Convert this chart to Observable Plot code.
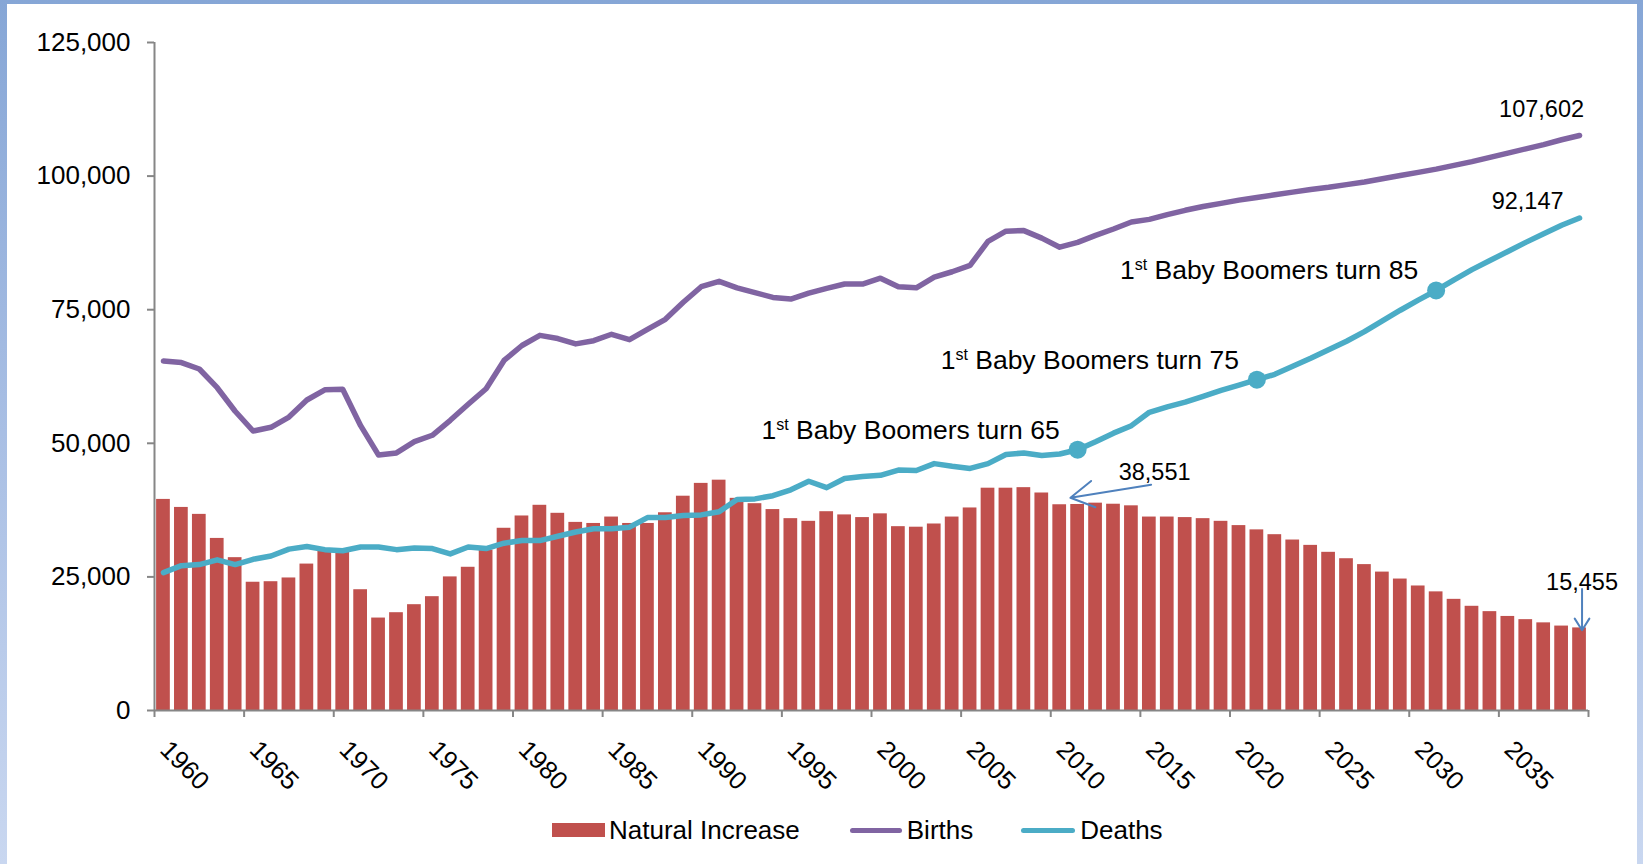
<!DOCTYPE html>
<html><head><meta charset="utf-8">
<script src="https://cdn.jsdelivr.net/npm/d3@7"></script>
<script src="https://cdn.jsdelivr.net/npm/@observablehq/plot@0.6"></script>
<style>
html,body{margin:0;padding:0;width:1643px;height:864px;overflow:hidden;}
body{background:linear-gradient(to bottom,#86a6d6 0%,#a9bfe4 50%,#c9d7f0 100%);position:relative;font-family:"Liberation Sans",Arial,sans-serif;}
#panel{position:absolute;left:7px;top:4px;width:1630px;height:860px;background:#fff;}
#chart{position:absolute;left:0;top:0;}
#legend{position:absolute;left:552px;top:815px;height:30px;display:flex;align-items:center;font-size:26px;color:#000;white-space:nowrap;}
#legend .sw{display:inline-block;flex:none;}
</style></head><body>
<div id="panel"></div><div id="chart"></div><div id="legend"></div>
<script>
// ---- data ----
const years = d3.range(1960, 2040);
const naturalIncrease = [
  39500, 38000, 36700, 32200, 28600, 24000, 24100, 24800, 27400, 29800,
  29800, 22600, 17300, 18300, 19800, 21300, 25000, 26800, 30000, 34100,
  36400, 38400, 36900, 35200, 35000, 36200, 35000, 35000, 37000, 40100,
  42500, 43100, 39700, 38700, 37600, 35900, 35400, 37200, 36600, 36100,
  36800, 34400, 34300, 34900, 36200, 37900, 41600, 41600, 41700, 40700,
  38500, 38551, 38800, 38600, 38300, 36200, 36200, 36100, 35900, 35400,
  34600, 33800, 32900, 31900, 30900, 29600, 28400, 27300, 25900, 24600,
  23300, 22200, 20800, 19500, 18500, 17600, 17000, 16400, 15800, 15455];
const births = [
  65400, 65100, 63900, 60400, 56000, 52300, 53000, 54900, 58100, 60000,
  60100, 53300, 47800, 48200, 50300, 51500, 54300, 57300, 60200, 65500,
  68300, 70200, 69600, 68600, 69200, 70400, 69400, 71300, 73200, 76400,
  79300, 80300, 79100, 78200, 77300, 77000, 78100, 79000, 79800, 79800,
  80900, 79300, 79100, 81100, 82100, 83300, 87800, 89700, 89800, 88400,
  86700, 87600, 88900, 90100, 91400, 91900, 92800, 93600, 94300, 94900,
  95500, 96000, 96500, 97000, 97500, 97900, 98400, 98900, 99500, 100100,
  100700, 101300, 102000, 102700, 103500, 104300, 105100, 105900, 106800, 107602];
const deaths = [
  25800, 27100, 27300, 28200, 27300, 28300, 28900, 30200, 30700, 30100,
  29900, 30600, 30600, 30100, 30400, 30300, 29300, 30600, 30300, 31300,
  31800, 31800, 32600, 33400, 34000, 34000, 34300, 36100, 36100, 36500,
  36600, 37200, 39500, 39600, 40200, 41300, 42900, 41700, 43400, 43800,
  44000, 45000, 44900, 46200, 45700, 45300, 46200, 47900, 48200, 47700,
  48000, 48800, 50300, 51900, 53300, 55800, 56800, 57700, 58800, 59900,
  60900, 61900, 62900, 64400, 65900, 67500, 69100, 70900, 72900, 74900,
  76800, 78600, 80600, 82500, 84200, 85900, 87600, 89200, 90800, 92147];
const yTicks = [0, 25000, 50000, 75000, 100000, 125000];
const xTickYears = d3.range(1960, 2041, 5);
const xLabelYears = d3.range(1960, 2040, 5);
const milestones = [{year: 2011, age: 65}, {year: 2021, age: 75}, {year: 2031, age: 85}];
const seriesNames = ["Natural Increase", "Births", "Deaths"];

// ---- style ----
const C = {ni: "#c0504d", births: "#8064a2", deaths: "#4bacc6", axis: "#868686", arrow: "#4f81bd"};
const FONT = '"Liberation Sans", Arial, sans-serif';

const data = years.map((year, i) => ({year, ni: naturalIncrease[i], births: births[i], deaths: deaths[i]}));
const byYear = new Map(data.map(d => [d.year, d]));
const ms = milestones.map(m => ({...m, value: byYear.get(m.year).deaths}));
const birthsEnd = [{year: 2039, value: byYear.get(2039).births}];
const deathsEnd = [{year: 2039, value: byYear.get(2039).deaths}];
const niLabel2011 = [{year: 2011, value: byYear.get(2011).ni}];
const niLabelEnd = [{year: 2039, value: byYear.get(2039).ni}];
const fmt = d3.format(",");
const mid = d => d.year + 0.5;

const chart = Plot.plot({
  width: 1643, height: 805,
  marginLeft: 154, marginRight: 55, marginTop: 42, marginBottom: 95,
  x: {domain: [1960, 2040], axis: null},
  y: {domain: [0, 125000], axis: null},
  style: {fontFamily: FONT, fontSize: "26px", background: "transparent", overflow: "visible", color: "#000"},
  marks: [
    Plot.rectY(data, {x: "year", y: "ni", interval: 1, fill: C.ni, insetLeft: 2.1, insetRight: 2.1}),
    Plot.ruleX([1960], {stroke: C.axis, strokeWidth: 2}),
    Plot.ruleY([0], {stroke: C.axis, strokeWidth: 2}),
    Plot.ruleX(xTickYears, {x: d => d, y1: 0, y2: 0, insetBottom: -7, stroke: C.axis, strokeWidth: 2}),
    Plot.axisY({ticks: yTicks, tickFormat: fmt, tickSize: 7, tickPadding: 17, stroke: C.axis, strokeWidth: 2, fill: "#000", fontSize: 26}),
    Plot.text(xLabelYears, {x: d => d + 0.5, text: d => String(d), frameAnchor: "bottom", rotate: 45, textAnchor: "start", lineAnchor: "top", dx: 8, dy: 28, fontSize: 25.5, fill: "#000"}),
    Plot.lineY(data, {x: mid, y: "births", stroke: C.births, strokeWidth: 5.5, strokeLinejoin: "round", strokeLinecap: "round"}),
    Plot.lineY(data, {x: mid, y: "deaths", stroke: C.deaths, strokeWidth: 5.5, strokeLinejoin: "round", strokeLinecap: "round"}),
    Plot.dot(ms, {x: mid, y: "value", r: 9, fill: C.deaths, stroke: null}),
    Plot.text(ms, {x: mid, y: "value", text: d => `1st Baby Boomers turn ${d.age}`, textAnchor: "end", lineAnchor: "bottom", dx: -18, dy: -11, fontSize: 26.5, fill: "#000"}),
    Plot.text(birthsEnd, {x: mid, y: "value", text: d => fmt(d.value), textAnchor: "end", lineAnchor: "bottom", dx: 4.5, dy: -18, fontSize: 23.5, fill: "#000"}),
    Plot.text(deathsEnd, {x: mid, y: "value", text: d => fmt(d.value), textAnchor: "end", lineAnchor: "bottom", dx: -16, dy: -9.5, fontSize: 23.5, fill: "#000"}),
    Plot.text(niLabel2011, {x: mid, y: "value", text: d => fmt(d.value), textAnchor: "start", lineAnchor: "bottom", dx: 41, dy: -24.7, fontSize: 23.5, fill: "#000"}),
    Plot.text(niLabelEnd, {x: d => d.year + 0.64, y: "value", text: d => fmt(d.value), textAnchor: "middle", lineAnchor: "bottom", dy: -38, fontSize: 23.5, fill: "#000"}),
    Plot.arrow(niLabel2011, {x1: d => d.year + 4.6, y1: d => d.value + 3700, x2: d => d.year + 0.1, y2: d => d.value + 1250, stroke: C.arrow, strokeWidth: 2, headLength: 20, headAngle: 60}),
    Plot.arrow(niLabelEnd, {x1: d => d.year + 0.64, y1: d => d.value + 7300, x2: d => d.year + 0.64, y2: d => d.value - 450, stroke: C.arrow, strokeWidth: 2, headLength: 20, headAngle: 64})
  ]
});

// superscript ordinals in annotation text
const NS = "http://www.w3.org/2000/svg";
chart.querySelectorAll("text").forEach(t => {
  if (t.querySelector("tspan")) return;
  const m = (t.textContent || "").match(/^(\d+)(st|nd|rd|th)( .*)$/);
  if (!m) return;
  t.textContent = "";
  const a = document.createElementNS(NS, "tspan"); a.textContent = m[1];
  const b = document.createElementNS(NS, "tspan"); b.textContent = m[2];
  b.setAttribute("font-size", "16"); b.setAttribute("dy", "-9");
  const c = document.createElementNS(NS, "tspan"); c.textContent = m[3];
  c.setAttribute("dy", "9");
  t.append(a, b, c);
});
document.getElementById("chart").appendChild(chart);

// legend
const legendStyle = [
  {kind: "bar", color: C.ni, gapBefore: 0, w: 53, h: 14, textGap: 4},
  {kind: "line", color: C.births, gapBefore: 50, w: 52, h: 5, textGap: 5},
  {kind: "line", color: C.deaths, gapBefore: 48, w: 54, h: 5, textGap: 5}
];
const legend = document.getElementById("legend");
seriesNames.forEach((name, i) => {
  const s = legendStyle[i];
  const sw = document.createElement("span");
  sw.className = "sw";
  sw.style.width = s.w + "px"; sw.style.height = s.h + "px"; sw.style.background = s.color;
  sw.style.marginLeft = s.gapBefore + "px";
  if (s.kind === "line") sw.style.borderRadius = "3px";
  const tx = document.createElement("span");
  tx.textContent = name; tx.style.marginLeft = s.textGap + "px";
  legend.append(sw, tx);
});
</script></body></html>
